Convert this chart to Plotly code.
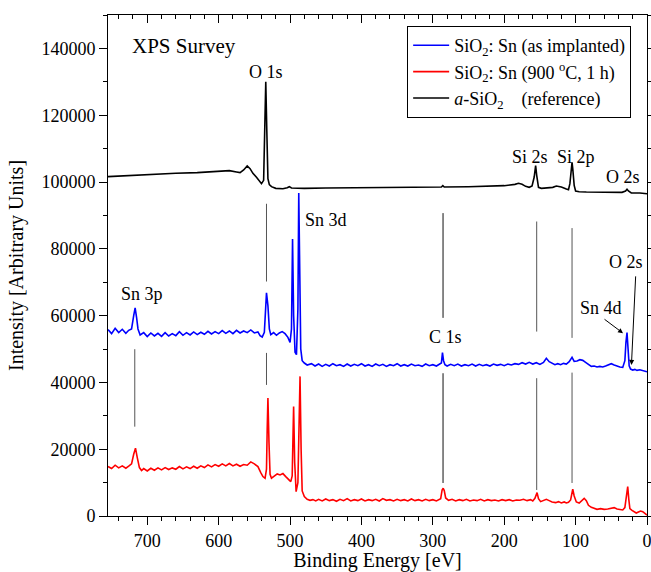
import plotly.graph_objects as go

# ---------------- data ----------------
ref_x = [755, 720, 690, 660, 630, 600, 585, 575, 570, 565, 560, 556, 552, 547, 543, 540, 537,
         535.5, 534, 532.5, 531, 529, 526, 520, 510, 504, 501, 498, 480, 450, 400, 350, 300,
         288, 286, 284, 250, 200, 185, 180, 175, 170, 165, 161, 158, 156, 154.5, 152, 148, 140,
         132, 127, 120, 113, 110, 108, 106, 105, 104, 102, 100, 95, 85, 70, 50, 35, 30, 28, 26,
         22, 10, 0]
ref_y = [101600, 102000, 102300, 102600, 102800, 103100, 103400, 103000, 102800, 103600, 104800,
         104000, 102600, 101400, 100200, 99500, 100500, 118000, 130000, 115000, 101000, 99200,
         98600, 98100, 98000, 98300, 98600, 98200, 98100, 98200, 98300, 98400, 98400, 98500,
         98900, 98500, 98600, 98900, 99300, 99600, 99300, 98700, 98400, 98800, 101500, 104900,
         102000, 98400, 98100, 98200, 98400, 98800, 98500, 97900, 97700, 99500, 104500, 105900,
         104000, 99000, 97300, 97100, 97000, 96950, 96900, 96900, 97300, 97800, 97300, 96700,
         96700, 96500]

impl_x = [755, 750, 745, 740, 735, 730, 726, 722, 719, 717, 715, 713, 710,
          705, 700, 695, 690, 685, 680, 675, 670, 665, 660, 655, 650, 645, 640, 635, 630,
          625, 620, 615, 610, 605, 600, 595, 590, 585, 580, 575, 570, 565, 560, 555, 550,
          545, 542, 539, 536, 534, 533, 531, 529, 527, 523, 519, 515, 511, 507, 503, 500,
          498, 496.5, 495, 493, 491, 489, 487.8, 486.5, 485, 483, 480, 476,
          470, 465, 460, 455, 450, 445, 440, 435, 430, 425, 420, 415, 410, 405, 400, 395,
          390, 385, 380, 375, 370, 365, 360, 355, 350, 345, 340, 335, 330, 325, 320, 315,
          310, 305, 300, 295, 290, 288, 286.5, 285, 283,
          280, 275, 270, 265, 260, 255, 250, 245, 240, 235, 230, 225, 220, 215, 210, 205,
          200, 195, 190, 185, 180, 175, 170, 165, 160, 155, 150, 145, 141, 137, 133, 129,
          125, 121, 117, 113, 109, 105, 102, 98, 94, 90, 86, 82, 78, 74, 70, 66, 62, 58,
          54, 50, 46, 42, 38, 34, 31, 29.5, 28, 26.5, 25, 23, 20, 17, 14, 10, 6, 3, 0]
impl_y = [55800, 54600, 56200, 54900, 55900, 54700, 55600, 56000, 60000, 62300, 59500, 56000, 54200,
          54900, 53700, 54800, 53900, 54700, 53800, 54900, 53900, 54600, 54000, 55200, 54100,
          54900, 54200, 55100, 54300, 55000, 54400, 55300, 54500, 55200, 54600, 55500, 54700,
          55400, 54600, 55600, 54800, 55400, 54900, 55700, 54800, 55100, 54000, 53600, 55000,
          62000, 66800, 63000, 56000, 54300, 54900, 54100, 54800, 55200, 54600, 53500, 52000,
          56000, 82900, 60000, 49000, 48300, 62000, 96700, 75000, 50000, 46500, 45800, 45200,
          45600, 44900, 45500, 44800, 45400, 44900, 45600, 45000, 45300, 44800, 45500, 44900,
          45400, 45000, 45600, 44900, 45300, 44800, 45500, 45000, 45400, 44800, 45300, 45000,
          45600, 44900, 45300, 44900, 45500, 45000, 45200, 44800, 45500, 45000, 45300, 44900,
          45400, 45800, 48900, 46500, 45300,
          44900, 45400, 45000, 45500, 44900, 45300, 45000, 45500, 44900, 45400, 45000, 45300,
          44900, 45500, 45100, 45400, 45000, 45500, 45200, 45600, 45400, 45900, 45500, 46000,
          45500, 45900, 45400, 46000, 47200, 46200, 45700, 45300, 45600, 45300, 45700, 45500,
          46200, 47500, 46300, 46400, 46800, 46600, 46000, 45300, 44800, 44900, 44600, 44800,
          44600, 44900, 45200, 45600, 45200, 44800, 44600, 44500, 46500, 52000, 54900, 50000,
          45000, 44000, 43700, 43900, 43600, 43800, 43500, 43300, 43200]

ann_x = [755, 750, 745, 740, 735, 730, 726, 722, 719, 716.5, 714, 711, 708, 705, 700, 695, 690,
         685, 680, 675, 670, 665, 660, 655, 650, 645, 640, 635, 630, 625, 620, 615, 610, 605,
         600, 595, 590, 585, 580, 575, 570, 565, 560, 555, 550, 545, 541, 538, 535, 533, 532,
         531, 529.5, 528, 526, 522, 518, 514, 510, 506, 502, 499, 497, 495, 493.5, 491.5, 489,
         487, 486, 484.5, 483, 480, 476, 472, 468, 464,
         460, 455, 450, 445, 440, 435, 430, 425, 420, 415, 410, 405, 400, 395, 390, 385, 380,
         375, 370, 365, 360, 355, 350, 345, 340, 335, 330, 325, 320, 315, 310, 305, 300, 295,
         291, 289, 287, 285.5, 284, 282,
         278, 273, 268, 263, 258, 253, 248, 243, 238, 233, 228, 223, 218, 213, 208, 203, 198,
         193, 188, 183, 178, 173, 168, 163, 160, 157, 154, 152, 149, 145, 141, 137, 133, 128,
         124, 120, 116, 113, 110, 107, 104, 102, 99, 95, 91, 88, 85, 82, 78, 74, 70, 65, 60,
         55, 50, 46, 42, 38, 34, 31, 29, 27, 25.5, 24, 21, 18, 15, 12, 9, 6, 3, 0]
ann_y = [14800, 14200, 15200, 14400, 15000, 14300, 14900, 15600, 18500, 20300, 17500, 14500,
         13600, 14200, 13500, 14300, 13700, 14400, 13800, 14500, 13900, 14400, 14000, 14800,
         14100, 14700, 14200, 14900, 14300, 15000, 14500, 15300, 14700, 15400, 14900, 15600,
         15000, 15700, 15000, 15500, 14900, 15400, 15200, 16200, 15600, 14800, 13000, 11800,
         11300, 14000, 26000, 35300, 22000, 12500, 11300, 11900, 12600, 12300, 12700, 11800,
         11000, 10300, 12000, 32800, 16000, 7300, 10000, 38000, 41800, 20000, 7500, 5800, 5000,
         4700, 4900, 4500,
         5000, 4500, 5100, 4600, 4900, 4400, 5000, 4600, 5200, 4500, 4900, 4600, 5100, 4500,
         4900, 4600, 5000, 4500, 5200, 4700, 4900, 4500, 5000, 4600, 4900, 4500, 5100, 4600,
         4900, 4500, 5000, 4600, 4900, 4500,
         4900, 5200, 7800, 8300, 7600, 5400,
         4700, 5000, 4500, 4900, 4600, 5000, 4500, 4800, 4600, 5000, 4500, 4900, 4600, 4800,
         4500, 4900, 4600, 4900, 4500, 4800, 4700, 5000, 4600, 4900, 4500, 5300, 7000, 5200,
         4300, 4600, 5000, 4600, 4200, 4000, 4300, 3900, 4200, 3900, 4100, 4800, 8000, 6000,
         4200, 3900, 4600, 5300, 4600, 3200, 2600, 2200, 2000, 2200, 2000, 2100, 2300, 2500,
         2100, 2000, 1800, 2500, 6000, 8800, 5000, 2200, 1700, 1200, 900, 1200, 1500, 1300,
         800, 300]

# peak marker lines: (energy, y0, y1, colour)
marker_x = [533, 533, 717.5, 285.7, 285.7, 154.5, 154.5, 105, 105]
marker_y0 = [70200, 39250, 26750, 59320, 9890, 55220, 7790, 53330, 9890]
marker_y1 = [93480, 48830, 49940, 90690, 42750, 88170, 41260, 86200, 42930]
marker_col = ["#555555", "#555555", "#555555", "#111111", "#111111",
              "#555555", "#555555", "#555555", "#555555"]

# peak labels
label_text = ["O 1s", "Si 2s", "Si 2p", "O 2s", "Sn 3d", "O 2s", "Sn 3p", "C 1s", "Sn 4d"]
label_x = [534, 164, 100, 34, 450, 30, 708, 282, 65]
label_y = [133000, 107600, 107600, 101600, 88700, 76100, 66500, 53600, 62200]

x_ticks = [700, 600, 500, 400, 300, 200, 100, 0]
y_ticks = [0, 20000, 40000, 60000, 80000, 100000, 120000, 140000]

FONT = "Liberation Serif"

fig = go.Figure()
fig.add_trace(go.Scatter(x=impl_x, y=impl_y, mode="lines", line=dict(color="#0000FF", width=1.6),
                         name="SiO<sub>2</sub>: Sn (as implanted)"))
fig.add_trace(go.Scatter(x=ann_x, y=ann_y, mode="lines", line=dict(color="#FF0000", width=1.6),
                         name="SiO<sub>2</sub>: Sn (900 <sup>o</sup>C, 1 h)"))
fig.add_trace(go.Scatter(x=ref_x, y=ref_y, mode="lines", line=dict(color="#000000", width=1.6),
                         name="<i>a</i>-SiO<sub>2</sub>    (reference)"))
# invisible trace to carry the top (inward-ticked) axis
fig.add_trace(go.Scatter(x=[x_ticks[0]], y=[None], xaxis="x2", mode="lines",
                         showlegend=False, hoverinfo="skip"))

for mx, a, b, c in zip(marker_x, marker_y0, marker_y1, marker_col):
    fig.add_shape(type="line", xref="x", yref="y", x0=mx, x1=mx, y0=a, y1=b,
                  line=dict(color=c, width=1))

for t, lx, ly in zip(label_text, label_x, label_y):
    fig.add_annotation(x=lx, y=ly, text=t, showarrow=False,
                       font=dict(family=FONT, size=18, color="black"))

fig.add_annotation(x=724, y=140800, text="XPS Survey", showarrow=False, xanchor="left",
                   font=dict(family=FONT, size=21, color="black"))

# arrows for Sn 4d and lower O 2s
fig.add_annotation(x=33.6, y=54740, ax=61.6, ay=59230, axref="x", ayref="y", xref="x", yref="y",
                   text="", showarrow=True, arrowhead=2, arrowsize=1, arrowwidth=1, arrowcolor="black")
fig.add_annotation(x=21.8, y=45240, ax=15.8, ay=72200, axref="x", ayref="y", xref="x", yref="y",
                   text="", showarrow=True, arrowhead=2, arrowsize=1, arrowwidth=1, arrowcolor="black")

axis_common = dict(showgrid=False, zeroline=False, linecolor="black", linewidth=1,
                   tickcolor="black", automargin=False, ticklabeloverflow="allow",
                   tickfont=dict(family=FONT, size=18, color="black"))

fig.update_layout(
    width=651, height=572,
    margin=dict(l=108, r=4, t=15, b=56),
    paper_bgcolor="white", plot_bgcolor="white",
    font=dict(family=FONT, size=18, color="black"),
    showlegend=True,
    legend=dict(x=0.555, y=0.978, xanchor="left", yanchor="top",
                bgcolor="white", bordercolor="black", borderwidth=1,
                font=dict(family=FONT, size=18, color="black"),
                itemwidth=36, tracegroupgap=0),
    xaxis=dict(range=[755, 0], autorange=False, tickvals=x_ticks, ticks="outside",
               ticklen=8, mirror=True, showline=True,
               minor=dict(dtick=20, tick0=0, ticks="outside", ticklen=4, tickcolor="black"),
               title=dict(text="Binding Energy [eV]", standoff=0,
                          font=dict(family=FONT, size=20, color="black")),
               **axis_common),
    xaxis2=dict(range=[755, 0], autorange=False, overlaying="x", side="top",
                tickvals=x_ticks, ticks="inside", ticklen=8, showticklabels=False,
                showline=False, showgrid=False, zeroline=False, tickcolor="black",
                automargin=False,
                minor=dict(dtick=20, tick0=0, ticks="inside", ticklen=4, tickcolor="black")),
    yaxis=dict(range=[0, 150000], autorange=False, tickvals=y_ticks, tickformat="d",
               ticks="outside", ticklen=8, mirror="ticks", showline=True,
               minor=dict(dtick=10000, tick0=0, ticks="outside", ticklen=4, tickcolor="black"),
               title=dict(text="Intensity [Arbitrary Units]", standoff=12,
                          font=dict(family=FONT, size=20, color="black")),
               **axis_common),
)

# remove the page's default body margin so the 651x572 figure fills the window exactly
fig.write_html("out.html", config={"displayModeBar": False},
               post_script="document.body.style.margin='0';document.body.style.overflow='hidden';")
